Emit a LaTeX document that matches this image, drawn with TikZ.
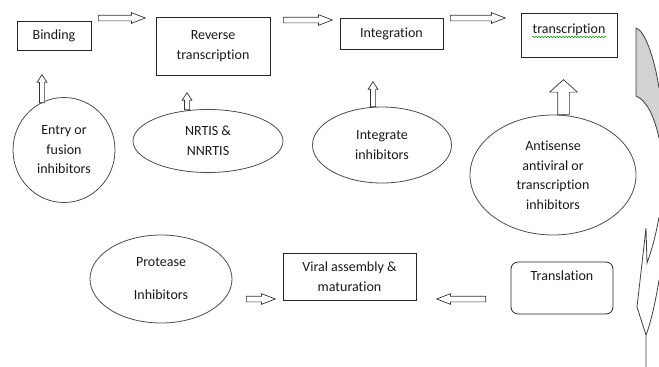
\documentclass[tikz,border=0pt]{standalone}
\usepackage{fontspec}
\setmainfont{Carlito}[Ligatures = NoCommon]
\usetikzlibrary{shapes.geometric,shapes.arrows,decorations.pathmorphing}

\begin{document}
\begin{tikzpicture}[x=1pt, y=-1pt,
    every node/.style = {font = \fontsize{14}{19.5}\selectfont, text = black!90},
    stagebox/.style = {draw = black!85, line width = .8pt, align = center, inner sep = 0pt},
    drugoval/.style = {ellipse, draw = black!70, line width = .8pt, align = center, inner sep = 0pt},
    blockarrow/.style = {single arrow, draw = black!80, fill = white, line width = .7pt,
                         inner xsep = 0pt, anchor = tail, minimum width = 0pt},
    flatarrow/.style = {blockarrow, inner ysep = 2.5pt, single arrow head extend = 2.5pt,
                        single arrow tip angle = 42},
    uparrow/.style = {blockarrow, rotate = 90, inner ysep = 2.25pt,
                      single arrow head extend = 2.25pt, single arrow tip angle = 65}]

        \useasboundingbox (0,0) rectangle (659,367);

        % the stages of the cycle
        \node[stagebox, minimum width = 74, minimum height = 29] (binding) at (54,35.5) {Binding};
        \node[stagebox, minimum width = 114, minimum height = 58] (reverse) at (213,46) {Reverse\\transcription};
        \node[stagebox, minimum width = 103, minimum height = 31] (integration) at (391.5,33.5) {Integration};
        \node[stagebox, minimum width = 96, minimum height = 44, text depth = 12pt] (transcr) at (569,35) {transcription};
        \node[stagebox, minimum width = 133, minimum height = 47] (viral) at (349.5,276.5) {Viral assembly \&\\maturation};
        \node[stagebox, rounded corners = 7pt, minimum width = 102, minimum height = 52, text depth = 25pt] (translation) at (562,288) {Translation};

        % spell check line under transcription
        \draw[green!60!black, line width = .5pt, decorate,
              decoration = {snake, amplitude = .7pt, segment length = 3pt}] (532,37) -- (606,37);

        % the drugs
        \node[drugoval, minimum width = 102, minimum height = 105] (entry) at (64,150) {Entry or\\fusion\\inhibitors};
        \node[drugoval, minimum width = 150, minimum height = 63] (nrtis) at (208,141) {NRTIS \&\\NNRTIS};
        \node[drugoval, minimum width = 139, minimum height = 76] (integrate) at (382,145) {Integrate\\inhibitors};
        \node[drugoval, minimum width = 166, minimum height = 120] (antisense) at (553,175) {Antisense\\antiviral or\\transcription\\inhibitors};
        \node[drugoval, minimum width = 142, minimum height = 88] (protease) at (161,279) {Protease\\[13.5pt]Inhibitors};

        % loops over the flat arrows
        \foreach \xa/\y/\len [count = \i] in {98/18/47, 283/20/49, 450/18/55, 246/299/29}{
          \node[flatarrow, minimum height = \len] (flat\i) at (\xa,\y) {};
          }
        \node[flatarrow, rotate = 180, minimum height = 49] (back) at (486,299) {};

        % loops over the small arrows going up
        \foreach \x/\y/\len [count = \i] in {42/103/28, 187/110/17, 373/107/25}{
          \node[uparrow, minimum height = \len] (up\i) at (\x,\y) {};
          }
        \node[blockarrow, rotate = 90, inner ysep = 5.5pt, single arrow head extend = 8pt,
              single arrow tip angle = 96, minimum height = 35] (bigup) at (563.5,115) {};

        % curved arrow cut by the page edge, had to draw it by hand...
        \fill[gray!35] (636,28) -- (636,96) .. controls (646,100) and (654,115) .. (659,138)
              -- (659,88) .. controls (654,55) and (644,30) .. (636,28) -- cycle;
        \draw[black!75, line width = .8pt]
              (659,88) .. controls (654,55) and (644,30) .. (636,28) -- (636,96)
              .. controls (646,100) and (654,115) .. (659,138);
        \draw[black!75, line width = .8pt]
              (659,217) .. controls (655,240) and (650,255) .. (647,263)
              -- (646,228) -- (637,307) -- (646,335) -- (646,367);
        \draw[black!75, line width = .8pt]
              (659,280) .. controls (655,305) and (650,325) .. (646,335);
      \end{tikzpicture}
\end{document}
